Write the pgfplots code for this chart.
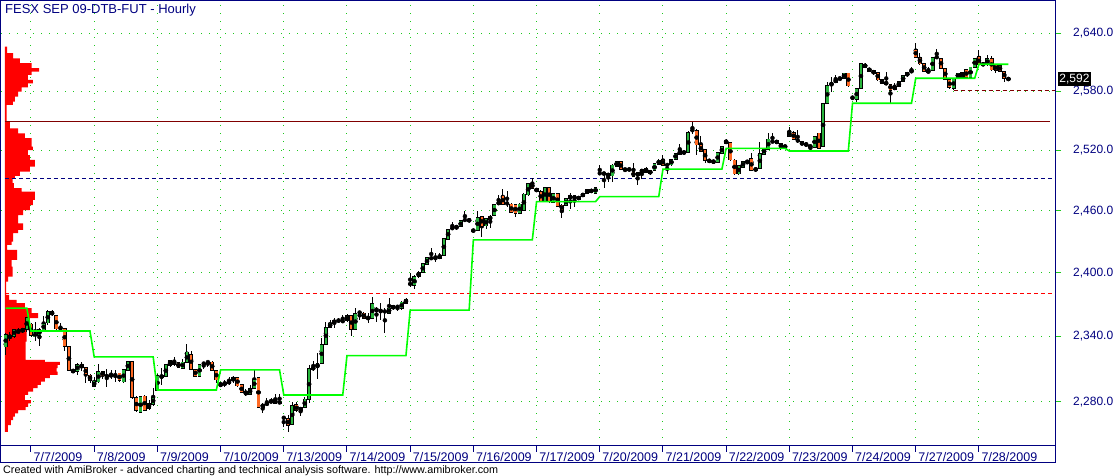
\documentclass[border=0pt]{standalone}
\usepackage{fontspec}
\setmainfont{Liberation Sans}
\usepackage{pgfplots}
\usepackage{pgfplotstable}
\pgfplotsset{compat=1.18}
\usetikzlibrary{calc}
\definecolor{navy}{RGB}{0,0,128}
\definecolor{cgreen}{RGB}{40,180,60}
\definecolor{corange}{RGB}{255,105,35}
\definecolor{limeg}{RGB}{0,255,0}
\definecolor{gridgreen}{RGB}{30,200,30}
\definecolor{maroonc}{RGB}{128,0,0}

\pgfplotstableread{
i o h l c
0 2330.4 2342.8 2322.8 2341.9
1 2339.1 2343.7 2336.0 2340.3
2 2340.3 2347.1 2338.2 2346.5
3 2344.3 2347.5 2342.8 2344.3
4 2344.3 2348.1 2342.8 2347.5
5 2346.5 2358.3 2344.3 2357.7
6 2351.5 2352.1 2339.7 2340.9
7 2341.6 2353.7 2336.0 2341.6
8 2340.9 2347.5 2331.3 2346.5
9 2345.9 2358.9 2345.3 2352.1
10 2352.7 2365.1 2350.6 2363.3
11 2363.3 2364.5 2359.5 2360.2
12 2359.5 2360.2 2345.9 2347.1
13 2347.5 2352.1 2344.3 2347.5
14 2347.5 2348.1 2326.8 2331.0
15 2330.7 2331.3 2307.8 2308.4
16 2309.0 2309.6 2306.0 2307.2
17 2307.8 2315.2 2304.4 2314.3
18 2314.3 2316.4 2308.1 2311.2
19 2311.5 2312.1 2297.4 2304.7
20 2304.4 2305.3 2296.8 2299.5
21 2293.7 2302.9 2293.1 2298.9
22 2298.0 2314.6 2296.8 2307.8
23 2307.5 2307.8 2301.0 2303.5
24 2303.5 2309.6 2293.7 2303.5
25 2303.8 2309.0 2300.4 2303.8
26 2304.4 2309.0 2298.0 2304.4
27 2306.0 2306.6 2298.0 2299.2
28 2298.0 2310.3 2297.4 2309.6
29 2308.4 2317.6 2307.8 2317.0
30 2317.0 2317.6 2282.9 2283.9
31 2283.9 2285.1 2270.6 2271.8
32 2270.0 2285.1 2269.4 2284.5
33 2285.1 2285.7 2271.8 2272.4
34 2273.6 2281.4 2272.4 2278.4
35 2277.8 2292.2 2276.6 2283.9
36 2290.6 2305.3 2290.0 2303.5
37 2302.3 2310.6 2295.3 2303.6
38 2303.0 2314.3 2302.3 2313.7
39 2313.4 2317.7 2312.2 2317.4
40 2317.1 2320.7 2312.8 2314.0
41 2315.5 2316.2 2310.6 2311.5
42 2310.6 2318.9 2310.0 2316.2
43 2315.8 2333.0 2315.2 2325.4
44 2323.5 2326.9 2309.1 2309.7
45 2309.7 2310.3 2302.3 2303.0
46 2303.0 2314.9 2302.3 2314.3
47 2314.9 2316.5 2309.7 2314.9
48 2316.2 2317.4 2312.2 2316.2
49 2316.2 2316.8 2307.9 2308.5
50 2308.5 2309.1 2296.8 2299.9
51 2296.2 2298.4 2293.8 2294.4
52 2295.3 2299.9 2293.8 2297.4
53 2296.2 2303.0 2295.3 2299.3
54 2299.3 2303.6 2296.8 2302.3
55 2302.3 2303.0 2293.8 2294.4
56 2295.3 2295.9 2287.6 2288.2
57 2289.2 2291.3 2285.5 2286.1
58 2286.7 2295.3 2286.1 2292.2
59 2292.2 2309.1 2291.6 2300.5
60 2302.3 2303.0 2273.9 2274.8
61 2274.8 2278.4 2269.4 2277.8
62 2277.2 2283.0 2276.0 2279.0
63 2279.3 2283.0 2278.4 2281.2
64 2282.1 2286.7 2277.8 2278.4
65 2279.3 2286.7 2278.7 2279.3
66 2265.5 2265.8 2257.4 2265.5
67 2264.9 2267.9 2252.9 2258.3
68 2259.5 2279.9 2258.9 2276.6
69 2277.2 2279.9 2270.9 2271.8
70 2271.8 2275.4 2267.3 2274.8
71 2274.5 2284.6 2273.9 2282.4
72 2282.1 2313.7 2279.0 2310.0
73 2309.7 2316.8 2308.5 2311.5
74 2311.2 2324.4 2300.8 2315.2
75 2315.2 2338.2 2314.3 2332.7
76 2332.7 2353.9 2332.1 2348.6
77 2348.3 2355.5 2347.6 2352.4
78 2352.4 2357.1 2348.3 2355.2
79 2354.9 2357.1 2352.4 2354.9
80 2354.2 2360.2 2353.0 2354.2
81 2354.9 2361.2 2353.9 2359.3
82 2359.3 2359.9 2340.7 2346.7
83 2346.7 2367.1 2346.1 2361.2
84 2362.4 2364.0 2355.5 2362.4
85 2361.8 2362.4 2356.4 2357.1
86 2357.4 2361.8 2352.4 2357.4
87 2357.1 2377.5 2356.4 2370.6
88 2366.5 2367.1 2353.9 2363.4
89 2364.0 2371.8 2355.5 2364.0
90 2363.4 2366.5 2343.6 2363.4
91 2361.8 2375.9 2361.2 2366.5
92 2366.2 2369.6 2364.9 2368.7
93 2367.8 2369.6 2363.4 2367.8
94 2366.2 2372.8 2364.9 2372.2
95 2371.2 2375.6 2370.6 2375.0
96 2389.4 2400.1 2386.9 2389.4
97 2387.9 2397.9 2384.4 2396.3
98 2396.3 2401.8 2395.4 2400.5
99 2400.1 2409.2 2399.5 2408.5
100 2408.2 2415.0 2407.6 2414.3
101 2414.0 2423.7 2412.4 2414.0
102 2414.0 2418.8 2410.8 2414.0
103 2413.7 2418.8 2413.0 2416.9
104 2416.9 2433.6 2416.2 2433.0
105 2432.3 2442.6 2431.7 2442.0
106 2443.0 2448.8 2441.4 2443.0
107 2443.0 2445.9 2441.4 2445.2
108 2444.6 2450.7 2443.9 2450.1
109 2451.0 2460.0 2449.4 2451.0
110 2451.7 2452.3 2449.1 2449.7
111 2440.7 2442.0 2439.4 2440.7
112 2441.0 2460.0 2440.4 2453.6
113 2454.2 2454.9 2434.9 2445.2
114 2445.2 2452.9 2442.6 2452.3
115 2454.9 2455.9 2443.0 2451.0
116 2455.2 2466.9 2454.6 2466.3
117 2466.3 2475.5 2465.6 2468.9
118 2474.5 2481.8 2465.6 2466.3
119 2467.3 2479.8 2464.0 2467.3
120 2466.6 2467.3 2457.5 2458.1
121 2466.0 2466.6 2453.6 2457.5
122 2457.5 2467.3 2456.8 2466.6
123 2460.0 2477.2 2459.4 2476.5
124 2475.5 2487.8 2474.9 2486.8
125 2487.1 2492.1 2481.5 2482.1
126 2482.1 2482.8 2478.2 2478.8
127 2478.8 2480.5 2468.6 2469.6
128 2468.9 2483.8 2468.3 2483.1
129 2483.1 2483.8 2467.9 2468.6
130 2468.3 2477.2 2467.6 2476.5
131 2477.2 2477.9 2464.0 2464.6
132 2465.6 2466.3 2453.3 2460.7
133 2465.3 2472.6 2464.6 2471.9
134 2471.9 2477.2 2461.3 2475.2
135 2475.2 2475.9 2464.0 2471.2
136 2471.2 2474.5 2470.6 2473.9
137 2473.9 2477.9 2473.2 2477.2
138 2477.2 2481.8 2476.5 2481.2
139 2481.2 2481.8 2477.2 2477.9
140 2477.2 2483.8 2476.5 2483.1
141 2497.0 2505.3 2495.4 2497.0
142 2497.7 2498.4 2482.1 2495.7
143 2496.4 2497.0 2488.8 2494.4
144 2494.4 2506.3 2488.8 2505.3
145 2503.6 2509.6 2503.0 2508.6
146 2508.6 2509.3 2500.3 2501.0
147 2501.0 2502.0 2498.7 2501.0
148 2500.7 2502.0 2499.7 2500.7
149 2498.7 2507.6 2493.1 2493.7
150 2494.4 2498.4 2485.5 2497.7
151 2497.7 2501.7 2491.1 2501.0
152 2502.0 2503.6 2497.0 2497.7
153 2496.4 2500.3 2495.7 2499.7
154 2499.7 2507.0 2499.0 2506.3
155 2506.0 2510.9 2505.3 2510.3
156 2511.0 2515.2 2504.3 2505.0
157 2505.3 2507.0 2496.0 2505.3
158 2505.3 2511.6 2504.6 2510.9
159 2510.9 2517.5 2510.3 2516.9
160 2516.2 2526.3 2515.6 2519.5
161 2518.5 2519.5 2516.2 2516.9
162 2517.5 2538.9 2516.9 2538.2
163 2540.2 2548.0 2536.5 2540.2
164 2540.2 2540.9 2515.2 2525.3
165 2525.3 2534.0 2517.9 2518.5
166 2520.3 2520.9 2507.3 2509.6
167 2510.3 2511.0 2507.6 2508.6
168 2509.0 2510.3 2507.0 2508.0
169 2508.0 2518.2 2507.3 2517.5
170 2516.9 2524.3 2516.2 2523.6
171 2529.7 2531.1 2526.3 2527.0
172 2527.7 2528.4 2509.6 2510.3
173 2510.3 2510.9 2495.4 2496.4
174 2496.4 2505.0 2495.0 2504.3
175 2503.0 2509.3 2502.0 2508.6
176 2508.6 2510.0 2506.0 2508.6
177 2511.9 2516.9 2499.0 2499.7
178 2502.0 2503.0 2498.5 2499.7
179 2502.0 2528.7 2501.3 2516.9
180 2516.2 2522.6 2515.6 2521.9
181 2521.0 2537.8 2520.3 2531.1
182 2528.7 2537.8 2527.0 2528.7
183 2529.7 2530.4 2526.3 2527.0
184 2527.0 2527.7 2520.0 2522.6
185 2522.6 2525.7 2521.0 2525.0
186 2533.8 2543.9 2533.1 2538.9
187 2538.2 2538.9 2530.4 2531.1
188 2529.7 2539.9 2527.0 2529.7
189 2528.4 2529.4 2525.0 2525.3
190 2527.0 2528.4 2523.6 2524.3
191 2524.7 2525.3 2519.5 2523.0
192 2523.0 2534.5 2522.3 2533.8
193 2537.2 2537.8 2521.2 2521.9
194 2523.6 2568.0 2522.9 2567.6
195 2567.6 2589.8 2566.9 2585.6
196 2585.6 2595.0 2578.8 2589.1
197 2588.8 2596.7 2588.1 2592.2
198 2592.6 2595.0 2591.5 2592.6
199 2593.3 2599.1 2592.6 2598.5
200 2598.5 2599.1 2584.6 2585.3
201 2573.4 2575.1 2571.0 2573.4
202 2571.7 2583.2 2569.3 2582.5
203 2582.5 2609.5 2581.8 2608.8
204 2608.1 2608.8 2603.6 2604.3
205 2603.6 2604.3 2599.8 2600.5
206 2601.2 2601.9 2597.1 2597.8
207 2599.5 2600.2 2590.8 2591.5
208 2591.5 2592.2 2587.4 2588.1
209 2589.1 2599.8 2586.3 2587.1
210 2587.1 2587.7 2567.6 2581.1
211 2581.8 2588.1 2581.1 2584.6
212 2584.6 2590.5 2583.9 2589.8
213 2589.8 2596.4 2589.1 2595.7
214 2595.7 2599.8 2595.0 2599.1
215 2599.1 2604.7 2598.5 2601.9
216 2623.4 2629.6 2614.4 2615.1
217 2615.1 2619.2 2607.4 2608.1
218 2608.8 2609.5 2599.5 2600.2
219 2599.1 2604.7 2598.5 2601.2
220 2601.2 2615.8 2600.5 2615.1
221 2615.1 2623.4 2613.7 2615.1
222 2614.0 2614.7 2602.9 2603.6
223 2603.6 2604.3 2591.5 2592.2
224 2591.5 2592.2 2581.8 2583.9
225 2582.9 2593.6 2581.1 2592.9
226 2593.9 2599.1 2593.3 2598.5
227 2594.3 2599.8 2593.6 2599.1
228 2601.9 2602.6 2593.6 2594.3
229 2594.3 2605.4 2593.6 2604.7
230 2604.7 2614.7 2604.0 2614.0
231 2615.8 2622.7 2606.1 2607.1
232 2608.8 2609.5 2606.1 2606.7
233 2607.1 2617.5 2606.1 2614.0
234 2613.3 2616.8 2601.2 2601.9
235 2607.1 2607.8 2598.5 2601.2
236 2606.7 2607.4 2599.5 2600.2
237 2600.2 2600.9 2589.8 2593.3
238 2592.5 2594.3 2590.8 2592.4
}\candles

% volume-at-price profile (length in bar units, price)
\pgfplotstableread{
v p
-0.2 2626.1
0.35 2626.1
0.35 2619.2
1.77 2619.2
1.77 2614.0
3.36 2614.0
3.36 2608.9
6.14 2608.9
6.14 2603.7
7.94 2603.7
7.94 2600.1
6.14 2600.1
6.14 2596.7
5.26 2596.7
5.26 2591.5
6.45 2591.5
6.45 2588.1
5.26 2588.1
5.26 2583.9
3.76 2583.9
3.76 2579.4
2.96 2579.4
2.96 2574.3
2.17 2574.3
2.17 2569.2
1.70 2569.2
1.70 2565.9
0.20 2565.9
0.20 2548.9
0.99 2548.9
0.99 2542.2
2.96 2542.2
2.96 2537.1
4.55 2537.1
4.55 2532.1
6.14 2532.1
6.14 2523.6
6.45 2523.6
6.45 2520.2
5.26 2520.2
5.26 2515.2
5.73 2515.2
5.73 2510.3
6.92 2510.3
6.92 2503.6
5.73 2503.6
5.73 2498.7
3.36 2498.7
3.36 2494.4
2.17 2494.4
2.17 2492.1
1.63 2492.1
1.63 2487.2
1.94 2487.2
1.94 2482.2
3.76 2482.2
3.76 2478.8
6.92 2478.8
6.92 2470.6
6.45 2470.6
6.45 2465.6
5.73 2465.6
5.73 2460.7
4.14 2460.7
4.14 2455.8
2.96 2455.8
2.96 2447.8
4.14 2447.8
4.14 2441.4
2.96 2441.4
2.96 2438.2
1.77 2438.2
1.77 2430.1
1.39 2430.1
1.39 2426.9
0.35 2426.9
0.35 2422.0
2.72 2422.0
2.72 2412.4
1.39 2412.4
1.39 2405.9
1.63 2405.9
1.63 2396.3
0.58 2396.3
0.58 2391.6
0.10 2391.6
0.10 2379.1
0.82 2379.1
0.82 2374.4
2.58 2374.4
2.58 2371.2
4.55 2371.2
4.55 2366.5
6.14 2366.5
6.14 2361.8
7.70 2361.8
7.70 2357.1
5.73 2357.1
5.73 2346.0
4.95 2346.0
4.95 2335.1
4.71 2335.1
4.71 2318.3
9.29 2318.3
9.29 2316.4
12.85 2316.4
12.85 2313.7
12.31 2313.7
12.31 2310.7
12.07 2310.7
12.07 2307.5
12.31 2307.5
12.31 2304.5
10.48 2304.5
10.48 2301.5
9.29 2301.5
9.29 2298.3
8.35 2298.3
8.35 2295.3
7.56 2295.3
7.56 2292.3
6.52 2292.3
6.52 2289.1
5.33 2289.1
5.33 2286.1
4.55 2286.1
4.55 2281.5
5.97 2281.5
5.97 2278.5
5.33 2278.5
5.33 2275.4
4.71 2275.4
4.71 2272.4
2.96 2272.4
2.96 2269.5
2.17 2269.5
2.17 2266.4
1.77 2266.4
1.77 2263.4
1.22 2263.4
1.22 2258.9
0.51 2258.9
0.51 2252.9
-0.2 2252.9
}\vprof

% trailing stop level
\pgfplotstableread{
i p
0 2366.5
5 2366.5
6 2345.1
20 2345.1
21 2321.0
35 2321.0
36 2290.7
50 2290.7
51 2309.1
65 2309.1
66 2286.1
80 2286.1
81 2322.2
95 2322.2
96 2364.6
110 2364.6
111 2431.7
125 2431.7
126 2468.9
140 2468.9
141 2473.9
155 2473.9
156 2501.1
170 2501.1
171 2521.9
185 2521.9
186 2519.2
200 2519.2
201 2567.6
215 2567.6
216 2593.3
230 2593.3
231 2607.8
238 2607.8
}\stopline

% horizontal levels
\pgfplotstableread{
x p
-0.2 2549.4
247.9 2549.4
}\lvlA
\pgfplotstableread{
x p
-0.2 2492.1
249.06 2492.1
}\lvlB
\pgfplotstableread{
x p
-0.2 2380.7
249.06 2380.7
}\lvlC
\pgfplotstableread{
x p
225 2580.3
249.06 2580.3
}\lvlD

\begin{document}
\begin{tikzpicture}
\path[use as bounding box] (0,0) rectangle (1116pt,476pt);
% price axis is logarithmic: axis coordinate = 1000*ln(price) - 7700
\begin{axis}[
  at={(1pt,30pt)}, anchor=south west,
  scale only axis, width=1054pt, height=445pt,
  xmin=-1.12, xmax=249.06,
  ymin=14.275, ymax=191.390,
  clip mode=individual,
  axis line style={navy, line width=1pt},
  xtick={6,21,36,51,66,81,96,111,126,141,156,171,186,201,216,231},
  xticklabels={7/7/2009,7/8/2009,7/9/2009,7/10/2009,7/13/2009,7/14/2009,7/15/2009,7/16/2009,7/17/2009,7/20/2009,7/21/2009,7/22/2009,7/23/2009,7/24/2009,7/27/2009,7/28/2009},
  ytick={31.930,57.906,83.224,107.916,132.014,155.544,178.534},
  yticklabels={{2,280.0},{2,340.0},{2,400.0},{2,460.0},{2,520.0},{2,580.0},{2,640.0}},
  xtick pos=bottom, ytick pos=right, yticklabel pos=right,
  tick align=outside, major tick length=6pt,
  xtick style={navy, line width=1pt},
  ytick style={gridgreen, line width=1pt},
  xticklabel style={anchor=north west, inner sep=0pt, xshift=2.5pt, text=navy, font=\fontsize{12.5}{14}\selectfont},
  yticklabel style={anchor=west, inner sep=0pt, xshift=12pt, text=navy, font=\fontsize{12}{14}\selectfont},
  grid=major,
  major grid style={gridgreen, line width=1pt, dash pattern=on 1pt off 7pt},
]
% volume profile
\addplot[fill=red, draw=none, forget plot] table[x=v, y expr={1000*ln(\thisrow{p})-7700}] {\vprof};
% horizontal levels
\addplot[maroonc, line width=1pt, forget plot] table[x=x, y expr={1000*ln(\thisrow{p})-7700}] {\lvlA};
\addplot[navy, line width=1pt, dash pattern=on 4pt off 3pt, forget plot] table[x=x, y expr={1000*ln(\thisrow{p})-7700}] {\lvlB};
\addplot[red, line width=1pt, dash pattern=on 4pt off 3pt, forget plot] table[x=x, y expr={1000*ln(\thisrow{p})-7700}] {\lvlC};
\addplot[maroonc, line width=1pt, dash pattern=on 4pt off 3pt, forget plot] table[x=x, y expr={1000*ln(\thisrow{p})-7700}] {\lvlD};
% wicks
\addplot[only marks, mark=none, forget plot, error bars/.cd, y dir=both, y explicit, error mark=none,
  error bar style={draw=black, line width=0.9pt}]
  table[x=i, y expr={500*(ln(\thisrow{h})+ln(\thisrow{l}))-7700}, y error expr={500*(ln(\thisrow{h})-ln(\thisrow{l}))}] {\candles};
% body outlines
\addplot[only marks, mark=none, forget plot, error bars/.cd, y dir=both, y explicit, error mark=none,
  error bar style={draw=black, line width=3.9pt}]
  table[x=i, y expr={500*(ln(\thisrow{o})+ln(\thisrow{c}))-7700}, y error expr={500*abs(ln(\thisrow{c})-ln(\thisrow{o}))+0.18}] {\candles};
% up bodies
\addplot[only marks, mark=none, forget plot, error bars/.cd, y dir=both, y explicit, error mark=none,
  error bar style={draw=cgreen, line width=2.5pt}]
  table[x=i, y expr={\thisrow{c}>\thisrow{o} ? 500*(ln(\thisrow{o})+ln(\thisrow{c}))-7700 : nan}, y error expr={max(500*abs(ln(\thisrow{c})-ln(\thisrow{o}))-0.12,0)}] {\candles};
% down bodies
\addplot[only marks, mark=none, forget plot, error bars/.cd, y dir=both, y explicit, error mark=none,
  error bar style={draw=corange, line width=2.5pt}]
  table[x=i, y expr={\thisrow{c}<\thisrow{o} ? 500*(ln(\thisrow{o})+ln(\thisrow{c}))-7700 : nan}, y error expr={max(500*abs(ln(\thisrow{c})-ln(\thisrow{o}))-0.12,0)}] {\candles};
% trailing stop
\addplot[limeg, line width=1.6pt, forget plot] table[x=i, y expr={1000*ln(\thisrow{p})-7700}] {\stopline};
% last price label (2592.4)
\node[fill=black, text=white, inner xsep=1.2pt, inner ysep=0pt, minimum height=14.5pt, anchor=west,
  font=\fontsize{12}{14}\selectfont, xshift=3pt] at (axis cs:249.06,160.339) {2,592};
% title
\node[anchor=north west, inner sep=0pt, text=navy, font=\fontsize{13}{15}\selectfont, xshift=4pt, yshift=-3pt]
  at (rel axis cs:0,1) {FESX SEP 09-DTB-FUT - Hourly};
% date strip
\draw[navy, line width=1pt] (rel axis cs:0,0) -- ($(rel axis cs:0,0)+(0pt,-17pt)$) -- ($(rel axis cs:1,0)+(0pt,-17pt)$) -- (rel axis cs:1,0);
% footer
\node[anchor=north west, inner sep=0pt, text=black, font=\fontsize{10.8}{12}\selectfont, xshift=2pt, yshift=-19.5pt]
  at (rel axis cs:0,0) {Created with AmiBroker - advanced charting and technical analysis software. http://www.amibroker.com};
\end{axis}
\end{tikzpicture}
\end{document}
